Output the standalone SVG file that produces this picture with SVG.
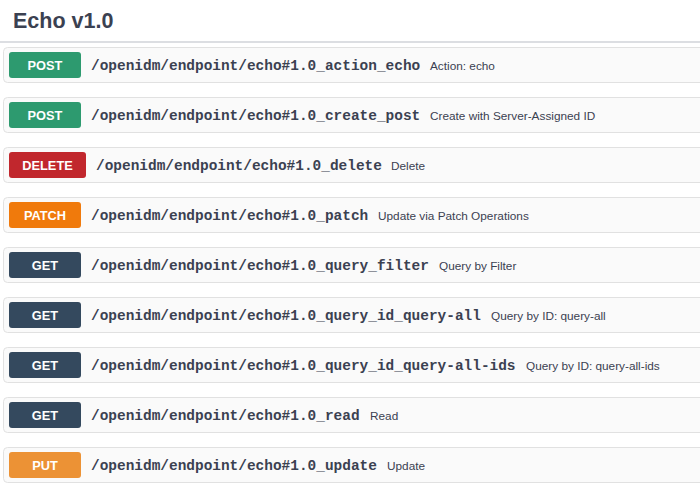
<svg xmlns="http://www.w3.org/2000/svg" width="700" height="489" viewBox="0 0 700 489">
<style>
.row{fill:#fafafa;stroke:#e1e1e1;stroke-width:1}
.badge{stroke:none}
.m{font-family:"Liberation Sans",Arial,sans-serif;font-weight:bold;font-size:12.8px;fill:#ffffff;text-anchor:middle}
.p{font-family:"Liberation Mono","Courier New",monospace;font-weight:bold;font-size:14.45px;fill:#3b4151}
.d{font-family:"Liberation Sans",Arial,sans-serif;font-size:11.8px;fill:#3b4151}
.post{fill:#2d9a6f}
.del{fill:#c1272d}
.patch{fill:#f07a0c}
.get{fill:#34495e}
.put{fill:#ec9235}
</style>
<rect x="0" y="0" width="700" height="489" fill="#ffffff"/>
<g id="title">
<text x="13" y="28" font-family="'Liberation Sans',Arial,sans-serif" font-weight="bold" font-size="21.5" fill="#3b4151">Echo v1.0</text>
<rect x="0" y="41" width="700" height="2" fill="#dcdee2"/>
</g>
<g id="row1">
<rect class="row" x="3.5" y="47.5" width="710" height="35" rx="4"/>
<rect class="badge post" x="9" y="52" width="72" height="26" rx="3"/>
<text class="m" x="45" y="69.5">POST</text>
<text class="p" x="91" y="70">/openidm/endpoint/echo#1.0_action_echo</text>
<text class="d" x="430" y="69.5">Action: echo</text>
</g>
<g id="row2">
<rect class="row" x="3.5" y="97.5" width="710" height="35" rx="4"/>
<rect class="badge post" x="9" y="102" width="72" height="26" rx="3"/>
<text class="m" x="45" y="119.5">POST</text>
<text class="p" x="91" y="120">/openidm/endpoint/echo#1.0_create_post</text>
<text class="d" x="430" y="119.5">Create with Server-Assigned ID</text>
</g>
<g id="row3">
<rect class="row" x="3.5" y="147.5" width="710" height="35" rx="4"/>
<rect class="badge del" x="9" y="152" width="77" height="26" rx="3"/>
<text class="m" x="47.5" y="169.5">DELETE</text>
<text class="p" x="96" y="170">/openidm/endpoint/echo#1.0_delete</text>
<text class="d" x="391" y="169.5">Delete</text>
</g>
<g id="row4">
<rect class="row" x="3.5" y="197.5" width="710" height="35" rx="4"/>
<rect class="badge patch" x="9" y="202" width="72" height="26" rx="3"/>
<text class="m" x="45" y="219.5">PATCH</text>
<text class="p" x="91" y="220">/openidm/endpoint/echo#1.0_patch</text>
<text class="d" x="378" y="219.5">Update via Patch Operations</text>
</g>
<g id="row5">
<rect class="row" x="3.5" y="247.5" width="710" height="35" rx="4"/>
<rect class="badge get" x="9" y="252" width="72" height="26" rx="3"/>
<text class="m" x="45" y="269.5">GET</text>
<text class="p" x="91" y="270">/openidm/endpoint/echo#1.0_query_filter</text>
<text class="d" x="439" y="269.5">Query by Filter</text>
</g>
<g id="row6">
<rect class="row" x="3.5" y="297.5" width="710" height="35" rx="4"/>
<rect class="badge get" x="9" y="302" width="72" height="26" rx="3"/>
<text class="m" x="45" y="319.5">GET</text>
<text class="p" x="91" y="320">/openidm/endpoint/echo#1.0_query_id_query-all</text>
<text class="d" x="491" y="319.5">Query by ID: query-all</text>
</g>
<g id="row7">
<rect class="row" x="3.5" y="347.5" width="710" height="35" rx="4"/>
<rect class="badge get" x="9" y="352" width="72" height="26" rx="3"/>
<text class="m" x="45" y="369.5">GET</text>
<text class="p" x="91" y="370">/openidm/endpoint/echo#1.0_query_id_query-all-ids</text>
<text class="d" x="526" y="369.5">Query by ID: query-all-ids</text>
</g>
<g id="row8">
<rect class="row" x="3.5" y="397.5" width="710" height="35" rx="4"/>
<rect class="badge get" x="9" y="402" width="72" height="26" rx="3"/>
<text class="m" x="45" y="419.5">GET</text>
<text class="p" x="91" y="420">/openidm/endpoint/echo#1.0_read</text>
<text class="d" x="370" y="419.5">Read</text>
</g>
<g id="row9">
<rect class="row" x="3.5" y="447.5" width="710" height="35" rx="4"/>
<rect class="badge put" x="9" y="452" width="72" height="26" rx="3"/>
<text class="m" x="45" y="469.5">PUT</text>
<text class="p" x="91" y="470">/openidm/endpoint/echo#1.0_update</text>
<text class="d" x="387" y="469.5">Update</text>
</g>
<g id="connectors"></g>
</svg>
